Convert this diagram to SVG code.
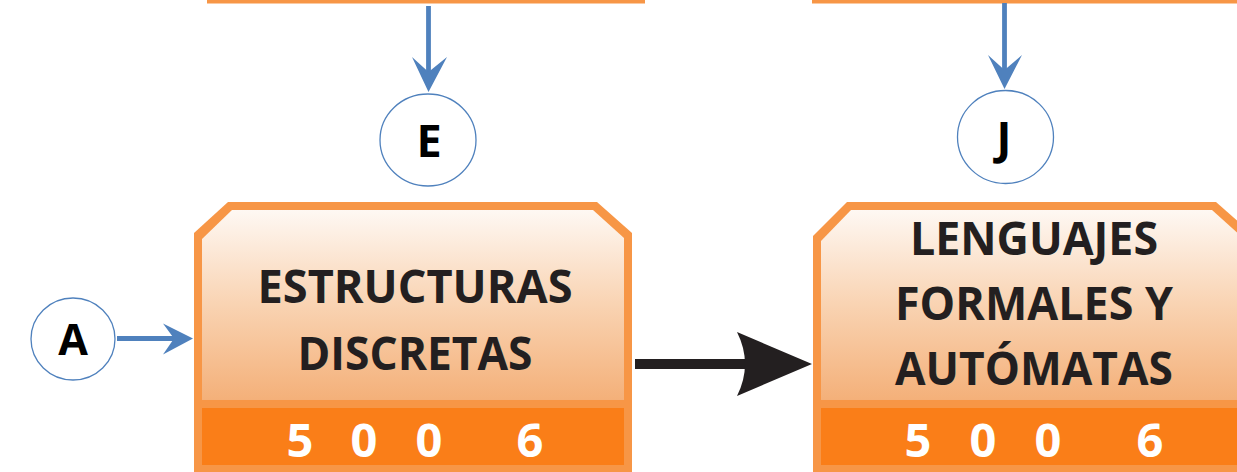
<svg xmlns="http://www.w3.org/2000/svg" width="1237" height="472" viewBox="0 0 1237 472">
<defs>
<linearGradient id="g" x1="0" y1="0" x2="0" y2="1">
<stop offset="0" stop-color="#FEF8F3"/>
<stop offset="0.5" stop-color="#F9D3B2"/>
<stop offset="1" stop-color="#F4B079"/>
</linearGradient>
<style>
.border{fill:#F79646}
.inner{fill:url(#g)}
.band{fill:#FA7E18}
.t{font-family:"Open Sans","Liberation Sans",sans-serif;font-weight:700;font-size:47px;fill:#231F20;text-anchor:middle}
.d{font-family:"Open Sans","Liberation Sans",sans-serif;font-weight:700;font-size:47px;fill:#FFFFFF;text-anchor:middle}
.c{fill:#FFFFFF;stroke:#4F81BD;stroke-width:1.3}
.cl{font-family:"Open Sans","Liberation Sans",sans-serif;font-weight:700;font-size:45px;fill:#000000;text-anchor:middle}
.bl{stroke:#4F81BD;stroke-width:4.8;fill:none}
.bh{fill:#4F81BD}
.kl{stroke:#231F20;stroke-width:10;fill:none}
.kh{fill:#231F20}
</style>
</defs>
<rect width="1237" height="472" fill="#FFFFFF"/>

<g id="top-left-box">
<rect x="207" y="0" width="438" height="3.5" class="border"/>
</g>
<g id="top-right-box">
<rect x="812" y="0" width="425" height="3.5" class="border"/>
</g>

<g id="node-estructuras">
<polygon class="border" points="194,233 228,202 597,202 632,233 632,472 194,472"/>
<polygon class="inner" points="202,239 232,210 593,210 624,238 624,400 202,400"/>
<rect class="band" x="202" y="408" width="422" height="57"/>
<text class="t" x="415" y="303" textLength="315" lengthAdjust="spacingAndGlyphs">ESTRUCTURAS</text>
<text class="t" x="415" y="370" textLength="235" lengthAdjust="spacingAndGlyphs">DISCRETAS</text>
<text class="d" x="300" y="457">5</text>
<text class="d" x="364" y="457">0</text>
<text class="d" x="429" y="457">0</text>
<text class="d" x="530" y="457">6</text>
</g>

<g id="node-lenguajes">
<polygon class="border" points="813,236 847,202 1216,202 1251,233 1251,472 813,472"/>
<polygon class="inner" points="821,241 851,210 1212,210 1243,238 1243,400 821,400"/>
<rect class="band" x="821" y="408" width="422" height="57"/>
<text class="t" x="1034" y="255" textLength="248" lengthAdjust="spacingAndGlyphs">LENGUAJES</text>
<text class="t" x="1034" y="320" textLength="278" lengthAdjust="spacingAndGlyphs">FORMALES Y</text>
<text class="t" x="1034" y="385" textLength="278" lengthAdjust="spacingAndGlyphs">AUTÓMATAS</text>
<text class="d" x="918" y="457">5</text>
<text class="d" x="983" y="457">0</text>
<text class="d" x="1048" y="457">0</text>
<text class="d" x="1150" y="457">6</text>
</g>

<g id="node-E">
<ellipse class="c" cx="428" cy="140" rx="48" ry="46"/>
<text class="cl" x="429" y="157">E</text>
</g>
<g id="node-J">
<ellipse class="c" cx="1005.5" cy="137" rx="48" ry="46.5"/>
<text class="cl" x="1004" y="154">J</text>
</g>
<g id="node-A">
<ellipse class="c" cx="73" cy="339" rx="42" ry="41"/>
<text class="cl" x="73" y="355" style="font-size:43px">A</text>
</g>

<g id="connectors">
<line class="bl" x1="428.5" y1="6" x2="428.5" y2="74"/>
<path class="bh" d="M412,57 L428.5,92 L447,57 L428.5,72 Z"/>
<line class="bl" x1="1004.5" y1="3" x2="1004.5" y2="72"/>
<path class="bh" d="M988,55 L1004.5,89 L1022,55 L1004.5,70 Z"/>
<line class="bl" x1="117" y1="338.5" x2="176" y2="338.5"/>
<path class="bh" d="M163,323.5 L193,338.5 L163,354.5 L174,338.5 Z"/>
<line class="kl" x1="635" y1="364" x2="746" y2="364"/>
<path class="kh" d="M737,332 Q753,364 737,396 L812,364 Z"/>
</g>
</svg>
